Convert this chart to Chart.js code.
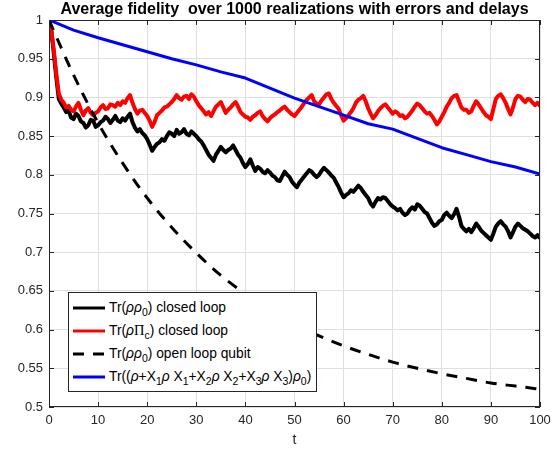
<!DOCTYPE html>
<html>
<head>
<meta charset="utf-8">
<script src="https://cdn.jsdelivr.net/npm/chart.js@4.4.1/dist/chart.umd.min.js"></script>
<style>
  body { margin: 0; background: #fff; }
  #wrap { position: relative; width: 560px; height: 452px; }
  #legend {
    position: absolute; left: 68px; top: 292px; width: 249px; height: 100px;
    border: 1px solid #262626; background: #fff; box-sizing: border-box;
    font-family: "Liberation Sans", Arial, sans-serif; font-size: 13.8px; color: #000;
    padding-top: 3px;
  }
  .row { display: flex; align-items: center; height: 23px; white-space: nowrap; }
  .row svg { margin-left: 4px; margin-right: 4px; flex: none; }
  .row sub { font-size: 10.5px; vertical-align: -4px; line-height: 0; }
  .row i { font-style: italic; }
  .pi { font-family: "Liberation Serif", serif; font-size: 14.5px; }
</style>
</head>
<body>
<div id="wrap">
  <canvas id="fidChart" width="560" height="452"></canvas>
  <div id="legend">
    <div class="row"><svg width="32" height="6"><line x1="0" y1="3" x2="32" y2="3" stroke="#000" stroke-width="3"/></svg><span>Tr(<i>ρρ</i><sub>0</sub>) closed loop</span></div>
    <div class="row"><svg width="32" height="6"><line x1="0" y1="3" x2="32" y2="3" stroke="#ff0000" stroke-width="3"/></svg><span>Tr(<i>ρ</i><span class="pi">Π</span><sub>c</sub>) closed loop</span></div>
    <div class="row"><svg width="32" height="6"><line x1="0" y1="3" x2="32" y2="3" stroke="#000" stroke-width="3" stroke-dasharray="11 9"/></svg><span>Tr(<i>ρρ</i><sub>0</sub>) open loop qubit</span></div>
    <div class="row"><svg width="32" height="6"><line x1="0" y1="3" x2="32" y2="3" stroke="#0000ff" stroke-width="3"/></svg><span>Tr((<i>ρ</i>+X<sub>1</sub><i>ρ</i> X<sub>1</sub>+X<sub>2</sub><i>ρ</i> X<sub>2</sub>+X<sub>3</sub><i>ρ</i> X<sub>3</sub>)<i>ρ</i><sub>0</sub>)</span></div>
  </div>
</div>
<script>
// time grid for the noisy closed loop curves (step 1, plus half steps below)
const tFine = [0,1,2,3,4,5,6,7,8,9,10,11,12,13,14,15,16,17,18,19,20,21,22,23,24,25,26,27,28,29,30,
  31,32,33,34,35,36,37,38,39,40,41,42,43,44,45,46,47,48,49,50,51,52,53,54,55,56,57,58,59,60,
  61,62,63,64,65,66,67,68,69,70,71,72,73,74,75,76,77,78,79,80,81,82,83,84,85,86,87,88,89,90,
  91,92,93,94,95,96,97,98,99,100];
// time grid for the smooth curves (step 5)
const tCoarse = [0,5,10,15,20,25,30,35,40,45,50,55,60,65,70,75,80,85,90,95,100];

// Tr(rho rho0) closed loop, at t = 0,1,...,100
const closedFid = [1.000,0.955,0.898,0.887,0.883,0.872,0.876,0.867,0.864,0.870,
  0.864,0.870,0.872,0.871,0.870,0.873,0.875,0.868,0.856,0.854,
  0.846,0.831,0.840,0.846,0.850,0.853,0.858,0.855,0.853,0.856,
  0.850,0.843,0.832,0.822,0.826,0.836,0.829,0.834,0.832,0.822,
  0.810,0.820,0.805,0.808,0.802,0.803,0.797,0.792,0.804,0.797,
  0.787,0.790,0.798,0.806,0.800,0.800,0.809,0.803,0.796,0.784,
  0.771,0.776,0.778,0.786,0.778,0.770,0.759,0.770,0.771,0.766,
  0.759,0.754,0.751,0.750,0.758,0.762,0.756,0.750,0.738,0.736,
  0.742,0.751,0.744,0.756,0.734,0.727,0.726,0.737,0.728,0.722,
  0.716,0.733,0.740,0.733,0.719,0.733,0.734,0.729,0.724,0.719,0.718];
// same curve at t = 0.5,1.5,...,99.5
const closedFidHalf = [0.985,0.925,0.892,0.881,0.874,0.879,0.869,0.861,0.871,0.862,
  0.868,0.875,0.867,0.876,0.868,0.870,0.879,0.861,0.859,0.851,
  0.839,0.836,0.842,0.844,0.855,0.850,0.853,0.859,0.851,0.853,
  0.846,0.838,0.826,0.818,0.831,0.832,0.832,0.838,0.826,0.815,
  0.814,0.812,0.810,0.804,0.806,0.799,0.793,0.798,0.800,0.791,
  0.784,0.794,0.802,0.804,0.797,0.805,0.806,0.799,0.790,0.777,
  0.774,0.780,0.782,0.783,0.774,0.763,0.765,0.768,0.770,0.762,
  0.757,0.756,0.748,0.755,0.755,0.760,0.752,0.744,0.734,0.740,
  0.748,0.747,0.749,0.746,0.730,0.730,0.731,0.733,0.725,0.719,
  0.724,0.737,0.736,0.727,0.726,0.737,0.731,0.727,0.721,0.722];

// Tr(rho Pi_c) closed loop, at t = 0,1,...,100
const codeFid = [1.000,0.960,0.905,0.893,0.889,0.882,0.893,0.877,0.886,0.877,
  0.882,0.890,0.886,0.890,0.893,0.895,0.899,0.893,0.879,0.884,
  0.876,0.862,0.877,0.883,0.888,0.894,0.903,0.897,0.902,0.904,
  0.895,0.886,0.878,0.876,0.888,0.894,0.880,0.887,0.894,0.881,
  0.875,0.871,0.877,0.882,0.872,0.873,0.878,0.883,0.888,0.881,
  0.876,0.884,0.893,0.900,0.895,0.891,0.900,0.905,0.893,0.885,
  0.870,0.877,0.886,0.897,0.902,0.886,0.873,0.882,0.889,0.887,
  0.879,0.880,0.877,0.875,0.883,0.892,0.886,0.879,0.876,0.865,
  0.875,0.888,0.899,0.903,0.887,0.884,0.882,0.895,0.886,0.877,
  0.872,0.898,0.904,0.893,0.878,0.898,0.901,0.894,0.897,0.890,0.889];
// same curve at t = 0.5,1.5,...,99.5
const codeFidHalf = [0.985,0.930,0.897,0.887,0.884,0.888,0.884,0.883,0.880,0.880,
  0.887,0.885,0.891,0.888,0.890,0.893,0.903,0.885,0.883,0.880,
  0.870,0.868,0.880,0.887,0.891,0.898,0.899,0.901,0.898,0.901,
  0.890,0.882,0.881,0.882,0.891,0.887,0.884,0.891,0.888,0.878,
  0.874,0.875,0.880,0.876,0.869,0.876,0.881,0.886,0.884,0.878,
  0.880,0.888,0.897,0.903,0.892,0.896,0.904,0.898,0.889,0.877,
  0.873,0.881,0.893,0.899,0.895,0.879,0.877,0.886,0.891,0.883,
  0.882,0.876,0.873,0.879,0.888,0.890,0.882,0.880,0.871,0.869,
  0.881,0.893,0.902,0.895,0.884,0.880,0.889,0.891,0.881,0.875,
  0.885,0.902,0.899,0.885,0.887,0.902,0.897,0.898,0.893,0.893];

// Tr(rho rho0) open loop qubit
const openFid = [1.000,0.929,0.867,0.815,0.770,0.732,0.699,0.670,0.646,0.625,
  0.607,0.592,0.579,0.568,0.558,0.550,0.543,0.537,0.531,0.527,0.523];

// Tr((rho + X1 rho X1 + X2 rho X2 + X3 rho X3) rho0)
const sumFid = [1.000,0.987,0.977,0.968,0.959,0.950,0.942,0.933,0.925,0.912,
  0.899,0.888,0.877,0.866,0.859,0.847,0.835,0.826,0.817,0.810,0.801];

const yTicks = [0.5,0.55,0.6,0.65,0.7,0.75,0.8,0.85,0.9,0.95,1];

function pts(ts, vs) {
  return ts.map((t, i) => ({ x: t, y: vs[i] }));
}

// whole-step values interleaved with the half-step readings
function ptsHalf(ts, vs, half) {
  const out = [];
  ts.forEach((t, i) => {
    out.push({ x: t, y: vs[i] });
    if (i < half.length) out.push({ x: t + 0.5, y: half[i] });
  });
  return out;
}

// box around the axes + inward tick marks like matlab
const axesFrame = {
  id: 'axesFrame',
  afterDraw(chart) {
    const { ctx, chartArea: a, scales: { x, y } } = chart;
    ctx.save();
    ctx.strokeStyle = '#262626';
    ctx.lineWidth = 1;
    ctx.beginPath();
    x.ticks.forEach(t => {
      const px = Math.round(x.getPixelForValue(t.value)) + 0.5;
      ctx.moveTo(px, a.bottom); ctx.lineTo(px, a.bottom - 5);
      ctx.moveTo(px, a.top); ctx.lineTo(px, a.top + 5);
    });
    y.ticks.forEach(t => {
      const py = Math.round(y.getPixelForValue(t.value)) + 0.5;
      ctx.moveTo(a.left, py); ctx.lineTo(a.left + 5, py);
      ctx.moveTo(a.right, py); ctx.lineTo(a.right - 5, py);
    });
    ctx.stroke();
    ctx.strokeRect(Math.round(a.left) + 0.5, Math.round(a.top) + 0.5,
      Math.round(a.width) - 1, Math.round(a.height) - 1);
    ctx.restore();
  }
};

const ctx = document.getElementById('fidChart').getContext('2d');
new Chart(ctx, {
  type: 'line',
  data: {
    datasets: [
      { label: 'closed', data: ptsHalf(tFine, closedFid, closedFidHalf), borderColor: '#000000', borderWidth: 4, order: 4 },
      { label: 'code', data: ptsHalf(tFine, codeFid, codeFidHalf), borderColor: '#ff0000', borderWidth: 4, order: 3 },
      { label: 'open', data: pts(tCoarse, openFid), borderColor: '#000000', borderWidth: 3, borderDash: [11, 9], cubicInterpolationMode: 'monotone', order: 2 },
      { label: 'sum', data: pts(tCoarse, sumFid), borderColor: '#0000ff', borderWidth: 3, order: 1 },
    ],
  },
  options: {
    responsive: false,
    animation: false,
    layout: { padding: { left: 0, right: 20, top: 0, bottom: 0 } },
    elements: { point: { radius: 0 }, line: { tension: 0, borderCapStyle: 'butt', borderJoinStyle: 'round' } },
    plugins: {
      legend: { display: false },
      tooltip: { enabled: false },
      title: {
        display: true,
        fullSize: false,
        text: 'Average fidelity  over 1000 realizations with errors and delays',
        color: '#000',
        font: { family: 'Liberation Sans', size: 16, weight: 'bold' },
        padding: { top: 0.4, bottom: 0.4 },
      },
    },
    scales: {
      x: {
        type: 'linear',
        min: 0,
        max: 100,
        ticks: { stepSize: 10, color: '#262626', padding: 6, font: { family: 'Liberation Sans', size: 13 } },
        grid: { color: '#dfdfdf', drawTicks: false },
        border: { display: false },
        title: { display: true, text: 't', color: '#262626', font: { family: 'Liberation Sans', size: 14 }, padding: { top: 0, bottom: 3 } },
        afterFit(scale) { scale.height = 45; },
      },
      y: {
        min: 0.5,
        max: 1,
        afterBuildTicks(scale) { scale.ticks = yTicks.map(v => ({ value: v })); },
        ticks: {
          color: '#262626', padding: 6, font: { family: 'Liberation Sans', size: 13 },
          callback: v => String(+v.toFixed(2)),
        },
        grid: { color: '#dfdfdf', drawTicks: false },
        border: { display: false },
        afterFit(scale) { scale.width = 49; },
      },
    },
  },
  plugins: [axesFrame],
});
</script>
</body>
</html>
